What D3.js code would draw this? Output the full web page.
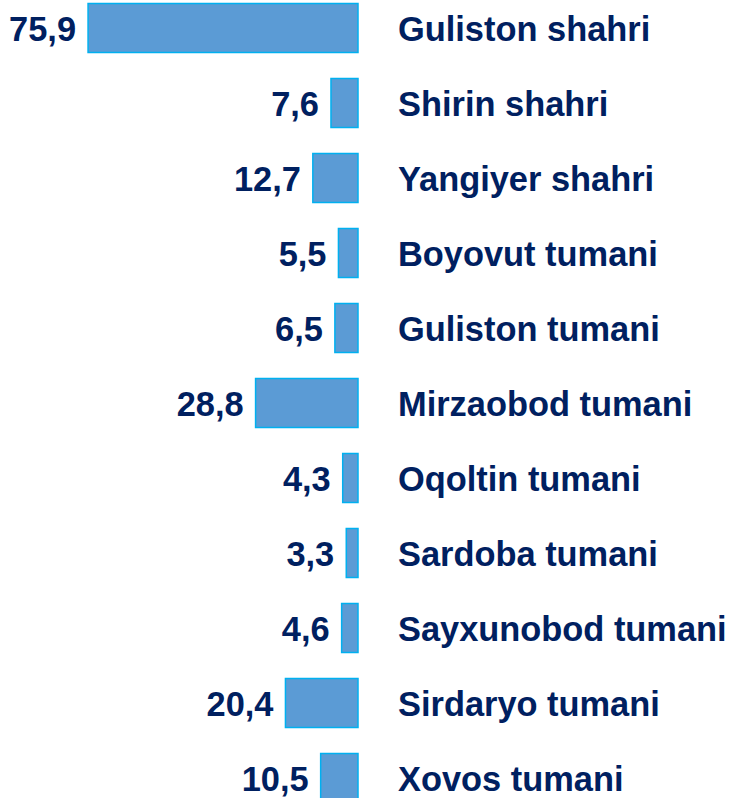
<!DOCTYPE html>
<html>
<head>
<meta charset="utf-8">
<script src="https://cdn.jsdelivr.net/npm/d3@7/dist/d3.min.js"></script>
<style>
  html, body { margin: 0; padding: 0; background: #ffffff; }
  svg { display: block; }
</style>
</head>
<body>
<svg id="chart" width="730" height="798"></svg>
<script>
const categories = [
  "Guliston shahri", "Shirin shahri", "Yangiyer shahri", "Boyovut tumani",
  "Guliston tumani", "Mirzaobod tumani", "Oqoltin tumani", "Sardoba tumani",
  "Sayxunobod tumani", "Sirdaryo tumani", "Xovos tumani"
];
const values = [75.9, 7.6, 12.7, 5.5, 6.5, 28.8, 4.3, 3.3, 4.6, 20.4, 10.5];
const valueLabels = ["75,9", "7,6", "12,7", "5,5", "6,5", "28,8", "4,3", "3,3", "4,6", "20,4", "10,5"];

const data = categories.map((c, i) => ({ cat: c, val: values[i], lab: valueLabels[i] }));

const svg = d3.select("#chart");
const font = "'Liberation Sans', Arial, Helvetica, sans-serif";
const navy = "#002060";

const baseX = 358;
const x = d3.scaleLinear().domain([0, 76]).range([baseX, baseX - 270.3]);

const step = 75;
const y = d3.scaleBand()
  .domain(categories)
  .range([3.5 - 13, 3.5 - 13 + step * categories.length])
  .paddingInner(26 / 75)
  .paddingOuter(13 / 75);

svg.selectAll("rect.bar")
  .data(data)
  .join("rect")
  .attr("class", "bar")
  .attr("x", d => x(d.val))
  .attr("y", d => y(d.cat))
  .attr("width", d => x(0) - x(d.val))
  .attr("height", y.bandwidth())
  .attr("fill", "#5b9bd5")
  .attr("stroke", "#00b0f0")
  .attr("stroke-width", 1.5);

svg.selectAll("text.val")
  .data(data)
  .join("text")
  .attr("class", "val")
  .attr("x", d => x(d.val) - 12)
  .attr("y", d => y(d.cat) + y.bandwidth() / 2 + 12.5)
  .attr("text-anchor", "end")
  .attr("font-family", font)
  .attr("font-weight", "bold")
  .attr("font-size", "34.4px")
  .attr("fill", navy)
  .text(d => d.lab);

svg.selectAll("text.cat")
  .data(data)
  .join("text")
  .attr("class", "cat")
  .attr("x", 398)
  .attr("y", d => y(d.cat) + y.bandwidth() / 2 + 12.5)
  .attr("text-anchor", "start")
  .attr("font-family", font)
  .attr("font-weight", "bold")
  .attr("font-size", "34.4px")
  .attr("fill", navy)
  .text(d => d.cat);
</script>
</body>
</html>
